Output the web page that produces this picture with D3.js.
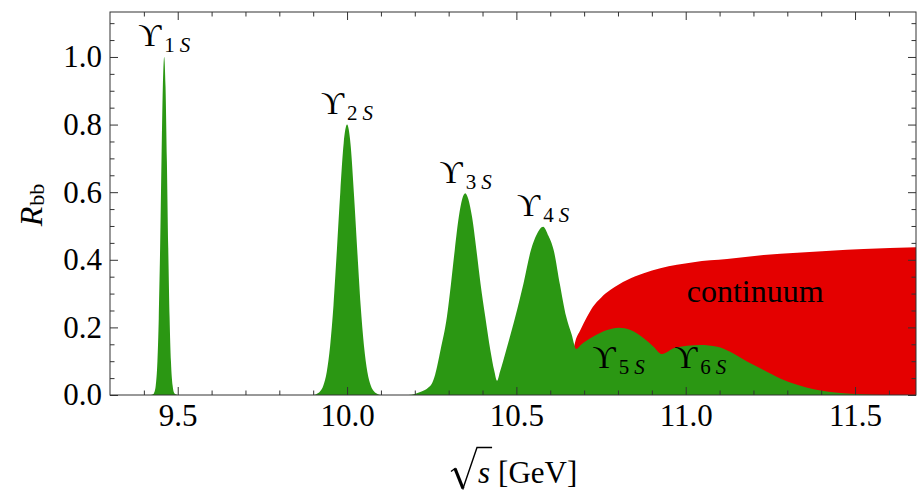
<!DOCTYPE html>
<html>
<head>
<meta charset="utf-8">
<script src="https://cdn.jsdelivr.net/npm/d3@7"></script>
<style>
  html, body { margin: 0; padding: 0; background: #fff; }
  svg { display: block; }
</style>
</head>
<body>
<svg id="chart" width="917" height="490"></svg>
<script>
// Bottomonium resonances: R_bb as a function of sqrt(s) [GeV]
const energy = [
  9.30, 9.42, 9.428, 9.43, 9.435, 9.44, 9.444, 9.448, 9.452, 9.456, 9.460,
  9.464, 9.468, 9.472, 9.476, 9.480, 9.485, 9.490, 9.495, 9.50,
  9.90, 9.91, 9.92, 9.93, 9.94, 9.95, 9.96, 9.97, 9.98, 9.99, 10.00,
  10.01, 10.02, 10.03, 10.04, 10.05, 10.06, 10.07, 10.08, 10.09, 10.10,
  10.18, 10.20, 10.22, 10.24, 10.251, 10.26, 10.276, 10.295, 10.307, 10.318, 10.33, 10.34, 10.349,
  10.358, 10.369, 10.382, 10.394, 10.408, 10.423, 10.435, 10.443,
  10.452, 10.470, 10.497, 10.521, 10.543, 10.56, 10.579,
  10.595, 10.610, 10.628, 10.647, 10.663, 10.677,
  10.690, 10.726, 10.768, 10.802, 10.837, 10.876, 10.905, 10.930,
  10.964, 11.004, 11.043, 11.093, 11.131, 11.181, 11.230, 11.279, 11.329,
  11.378, 11.427, 11.486, 11.55, 11.60, 11.68
];
const resonance = [
  0, 0, 0.003, 0.0055, 0.027, 0.099, 0.228, 0.435, 0.691, 0.912, 1.0,
  0.912, 0.691, 0.435, 0.228, 0.099, 0.027, 0.0055, 0.002, 0,
  0, 0.003, 0.010, 0.028, 0.068, 0.145, 0.266, 0.43, 0.60, 0.745, 0.80,
  0.745, 0.60, 0.43, 0.266, 0.145, 0.068, 0.028, 0.010, 0.003, 0,
  0, 0.003, 0.010, 0.022, 0.035, 0.06, 0.133, 0.232, 0.330, 0.429, 0.527, 0.58, 0.597,
  0.58, 0.527, 0.429, 0.330, 0.232, 0.133, 0.07, 0.042,
  0.07, 0.133, 0.232, 0.330, 0.429, 0.475, 0.498,
  0.47, 0.429, 0.330, 0.232, 0.18, 0.136,
  0.148, 0.172, 0.192, 0.199, 0.192, 0.168, 0.143, 0.121,
  0.138, 0.146, 0.148, 0.143, 0.128, 0.099, 0.074, 0.049, 0.030,
  0.017, 0.009, 0.004, 0.001, 0, 0
];

// Open-bottom continuum above threshold
const contEnergy = [
  10.650, 10.655, 10.662, 10.674, 10.689, 10.709, 10.726, 10.750, 10.778,
  10.827, 10.876, 10.925, 11.023, 11.122, 11.23, 11.329, 11.427, 11.525, 11.68
];
const continuum = [
  0, 0.05, 0.10, 0.158, 0.192, 0.232, 0.261, 0.288, 0.311,
  0.340, 0.360, 0.375, 0.393, 0.402, 0.414, 0.421, 0.427, 0.432, 0.437
];

// Resonance labels
const states = ["1", "2", "3", "4", "5", "6"];
const stateMass = [9.460, 10.000, 10.350, 10.579, 10.802, 11.043];
const statePeak = [1.0, 0.80, 0.597, 0.498, 0.199, 0.148];

// Axis ticks
const xMajor = [9.5, 10.0, 10.5, 11.0, 11.5];
const xMinor = [9.4, 9.6, 9.7, 9.8, 9.9, 10.1, 10.2, 10.3, 10.4, 10.6, 10.7, 10.8, 10.9, 11.1, 11.2, 11.3, 11.4, 11.6];
const yMajor = [0.0, 0.2, 0.4, 0.6, 0.8, 1.0];
const yMinor = [0.05, 0.1, 0.15, 0.25, 0.3, 0.35, 0.45, 0.5, 0.55, 0.65, 0.7, 0.75, 0.85, 0.9, 0.95, 1.05, 1.1];

const SERIF = '"Liberation Serif"';
const frame = { left: 110, right: 916, top: 12, bottom: 395 };

const svg = d3.select("#chart");
const x = d3.scaleLinear().domain([9.30, 11.68]).range([frame.left, frame.right]);
const y = d3.scaleLinear().domain([0, 1.133]).range([frame.bottom, frame.top]);

svg.append("defs").append("clipPath").attr("id", "plot")
  .append("rect").attr("x", frame.left).attr("y", frame.top)
  .attr("width", frame.right - frame.left).attr("height", frame.bottom - frame.top);

const plot = svg.append("g").attr("clip-path", "url(#plot)");

const contData = contEnergy.map((e, i) => [e, continuum[i]]);
const resData = energy.map((e, i) => [e, resonance[i]]);

const area = d3.area()
  .x(d => x(d[0]))
  .y0(y(0))
  .y1(d => y(d[1]))
  .curve(d3.curveMonotoneX);

plot.append("path").datum(contData).attr("d", area).attr("fill", "#e40000");
plot.append("path").datum(resData).attr("d", area).attr("fill", "#2b9713");

// Frame with ticks on all four sides
const frameColor = "#333";
const fmt = d3.format(".1f");
function styleAxis(g) {
  g.attr("font-family", null).attr("font-size", null);
  g.select(".domain").remove();
  g.selectAll(".tick line").attr("stroke", frameColor).attr("stroke-width", 1);
  g.selectAll(".tick text").attr("fill", "#000")
    .style("font-family", SERIF).style("font-size", "31px");
}

svg.append("g").attr("transform", `translate(0,${frame.bottom})`)
  .call(d3.axisBottom(x).tickValues(xMajor).tickSize(-8).tickPadding(9).tickFormat(fmt))
  .call(styleAxis);
svg.append("g").attr("transform", `translate(0,${frame.bottom})`)
  .call(d3.axisBottom(x).tickValues(xMinor).tickSize(-4.5).tickFormat(""))
  .call(styleAxis);
svg.append("g").attr("transform", `translate(0,${frame.top})`)
  .call(d3.axisTop(x).tickValues(xMajor).tickSize(-8).tickFormat(""))
  .call(styleAxis);
svg.append("g").attr("transform", `translate(0,${frame.top})`)
  .call(d3.axisTop(x).tickValues(xMinor).tickSize(-4.5).tickFormat(""))
  .call(styleAxis);

svg.append("g").attr("transform", `translate(${frame.left},0)`)
  .call(d3.axisLeft(y).tickValues(yMajor).tickSize(-8).tickPadding(8).tickFormat(fmt))
  .call(styleAxis);
svg.append("g").attr("transform", `translate(${frame.left},0)`)
  .call(d3.axisLeft(y).tickValues(yMinor).tickSize(-4.5).tickFormat(""))
  .call(styleAxis);
svg.append("g").attr("transform", `translate(${frame.right},0)`)
  .call(d3.axisRight(y).tickValues(yMajor).tickSize(-8).tickFormat(""))
  .call(styleAxis);
svg.append("g").attr("transform", `translate(${frame.right},0)`)
  .call(d3.axisRight(y).tickValues(yMinor).tickSize(-4.5).tickFormat(""))
  .call(styleAxis);

svg.append("rect")
  .attr("x", frame.left).attr("y", frame.top)
  .attr("width", frame.right - frame.left).attr("height", frame.bottom - frame.top)
  .attr("fill", "none").attr("stroke", frameColor).attr("stroke-width", 1);

// Resonance labels: first four above their peaks, the broad ones beneath the curve
const labels = svg.append("g");
states.forEach((s, i) => {
  const above = i < 4;
  const ly = above ? y(statePeak[i]) - 10.5 : y(0.079);
  const t = labels.append("text")
    .attr("x", x(stateMass[i]))
    .attr("y", ly)
    .attr("text-anchor", "middle")
    .attr("fill", "#000")
    .style("font-family", SERIF);
  t.append("tspan").style("font-size", "32px").text("ϒ");
  t.append("tspan").style("font-size", "21px").attr("dx", 3).attr("dy", 6).text(s);
  t.append("tspan").style("font-size", "21px").attr("dx", 5).style("font-style", "italic").text("S");
});

svg.append("text")
  .attr("x", x(11.205)).attr("y", 302)
  .attr("text-anchor", "middle")
  .attr("fill", "#000")
  .style("font-family", SERIF).style("font-size", "32px")
  .text("continuum");

// Axis titles
const yTitle = svg.append("text")
  .attr("transform", "translate(42,205) rotate(-90)")
  .attr("text-anchor", "middle")
  .attr("fill", "#000")
  .style("font-family", SERIF);
yTitle.append("tspan").style("font-size", "32px").style("font-style", "italic").text("R");
yTitle.append("tspan").style("font-size", "22px").attr("dy", 2).attr("dx", 1).text("bb");

// sqrt(s) [GeV]: radicand and unit as text, radical sign drawn as a stroke
const xTitle = svg.append("text")
  .attr("x", 478).attr("y", 483)
  .attr("text-anchor", "start")
  .attr("fill", "#000")
  .style("font-family", SERIF).style("font-size", "31px");
xTitle.append("tspan").style("font-style", "italic").text("s");
xTitle.append("tspan").attr("dx", 8).text("[GeV]");

const sBox = xTitle.node().getExtentOfChar(0);
const rx = sBox.x;          // left of the radicand
const ry = 447.5;           // overline height
svg.append("path")
  .attr("d", `M${rx - 27},${ry + 24} L${rx - 23},${ry + 21} L${rx - 15},${ry + 41} L${rx - 1},${ry} L${sBox.x + sBox.width + 2},${ry}`)
  .attr("fill", "none").attr("stroke", "#000").attr("stroke-width", 1.4)
  .attr("stroke-linejoin", "miter");
svg.append("path")
  .attr("d", `M${rx - 23},${ry + 21} L${rx - 15},${ry + 41}`)
  .attr("stroke", "#000").attr("stroke-width", 3.2);
</script>
</body>
</html>
